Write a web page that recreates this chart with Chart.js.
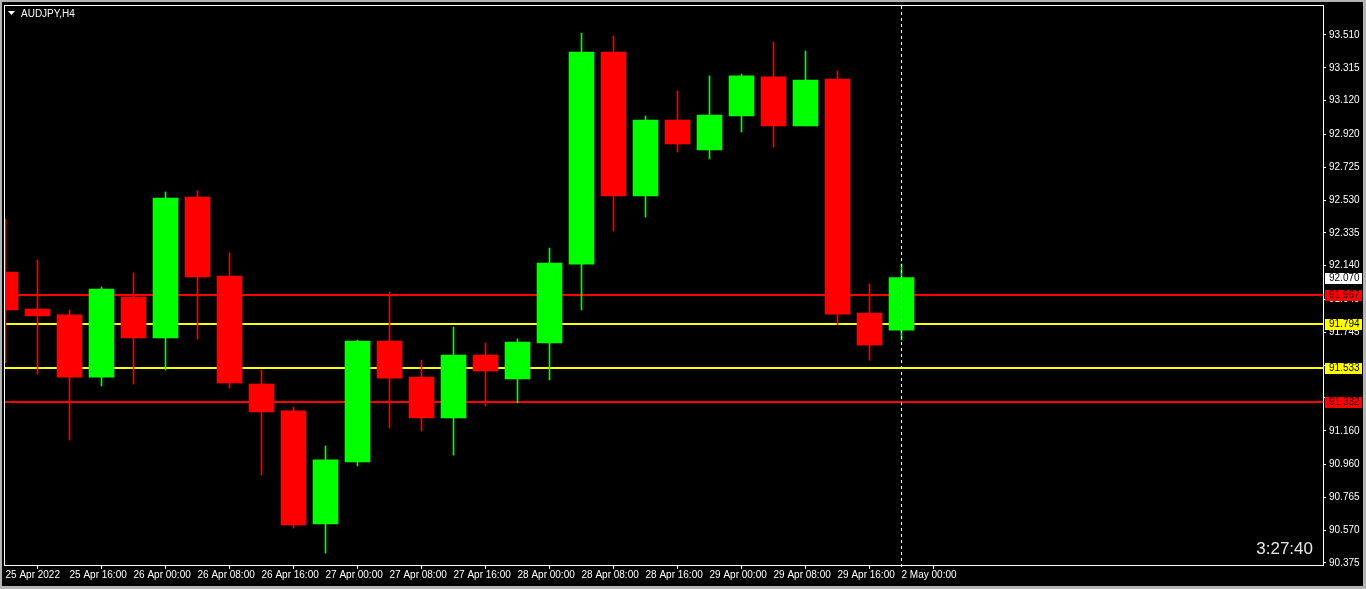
<!DOCTYPE html>
<html>
<head>
<meta charset="utf-8">
<title>AUDJPY,H4</title>
<script src="https://cdn.jsdelivr.net/npm/chart.js@4.4.1/dist/chart.umd.min.js"></script>
<style>
  html, body { margin: 0; padding: 0; background: #b4b4b4; overflow: hidden; }
  #chart { position: absolute; left: 2px; top: 2px; background: #000; }
</style>
</head>
<body>
<canvas id="chart" width="1361" height="584"></canvas>
<script>
// Bougies H4 : de 25 Apr 08:00 à 2 May 00:00 (29 bougies)
const opens  = [92.103, 91.883, 91.848, 91.479, 91.954, 91.711, 92.548, 92.079, 91.438, 91.278,
                90.607, 90.975, 91.693, 91.479, 91.236, 91.610, 91.468, 91.681, 92.150, 93.409,
                92.554, 93.005, 92.827, 93.029, 93.261, 92.970, 93.249, 91.859, 91.758];
const highs  = [92.418, 92.174, 91.877, 92.014, 92.097, 92.578, 92.584, 92.216, 91.521, 91.301,
                91.070, 91.699, 91.984, 91.580, 91.776, 91.681, 91.705, 92.245, 93.522, 93.504,
                93.029, 93.178, 93.267, 93.278, 93.468, 93.415, 93.296, 92.032, 92.150];
const lows   = [91.563, 91.497, 91.105, 91.426, 91.438, 91.521, 91.705, 91.414, 90.898, 90.583,
                90.434, 90.951, 91.177, 91.159, 91.016, 91.307, 91.325, 91.462, 91.877, 92.346,
                92.429, 92.815, 92.774, 92.934, 92.845, 92.970, 91.788, 91.580, 91.699];
const closes = [91.877, 91.842, 91.479, 92.002, 91.711, 92.542, 92.073, 91.444, 91.272, 90.601,
                90.987, 91.693, 91.473, 91.236, 91.610, 91.515, 91.687, 92.156, 93.409, 92.554,
                93.005, 92.863, 93.035, 93.267, 92.970, 93.243, 91.853, 91.669, 92.070];

// une étiquette toutes les 2 bougies
const xTickLabels = ["25 Apr 2022", "25 Apr 16:00", "26 Apr 00:00", "26 Apr 08:00", "26 Apr 16:00",
                     "27 Apr 00:00", "27 Apr 08:00", "27 Apr 16:00", "28 Apr 00:00", "28 Apr 08:00",
                     "28 Apr 16:00", "29 Apr 00:00", "29 Apr 08:00", "29 Apr 16:00", "2 May 00:00"];
const yTickValues = [93.510, 93.315, 93.120, 92.920, 92.725, 92.530, 92.335, 92.140, 91.940,
                     91.745, 91.550, 91.355, 91.160, 90.960, 90.765, 90.570, 90.375];

// niveaux horizontaux
const levelValues = [91.967, 91.794, 91.533, 91.332];
const timerText = "3:27:40";
const symbolText = "AUDJPY,H4";

const levelColors = ['#ff0000', '#ffff00', '#ffff00', '#ff0000'];
const font = { family: '"Liberation Sans", Arial, sans-serif', size: 10 };

const idx = closes.map((_, i) => i);
const colors = idx.map(i => closes[i] >= opens[i] ? '#00ff00' : '#ff0000');
const bodyData = idx.map(i => ({ x: i, y: [opens[i], closes[i]] }));
const wickData = idx.map(i => ({ x: i, y: [lows[i], highs[i]] }));

// une graduation juste au-dessus d'une étiquette de niveau est masquée, comme dans MT4
const hiddenByLevel = v => levelValues.some(l => v - l >= 0 && v - l < 0.025);

const mt4Overlay = {
    id: 'mt4Overlay',
    beforeDatasetsDraw(chart) {
        const { ctx, chartArea: a, scales: { y } } = chart;
        ctx.save();
        levelValues.forEach((v, i) => {
            const py = Math.round(y.getPixelForValue(v));
            ctx.fillStyle = levelColors[i];
            ctx.fillRect(a.left, py - 1, a.right - a.left + 1, 2);
        });
        ctx.restore();
    },
    afterDraw(chart) {
        const { ctx, chartArea: a, scales: { x, y } } = chart;
        ctx.save();

        // cadre
        ctx.strokeStyle = '#ffffff';
        ctx.lineWidth = 1;
        ctx.strokeRect(a.left + 0.5, a.top + 0.5, a.right - a.left, a.bottom - a.top);

        // ligne verticale pointillée sur la dernière bougie
        const px = Math.floor(x.getPixelForValue(closes.length - 1)) + 0.5;
        ctx.setLineDash([3, 3]);
        ctx.beginPath();
        ctx.moveTo(px, a.top + 1);
        ctx.lineTo(px, a.bottom + 5);
        ctx.stroke();
        ctx.setLineDash([]);

        // étiquettes de prix sur l'axe
        ctx.font = font.size + 'px ' + font.family;
        ctx.textBaseline = 'middle';
        ctx.textAlign = 'left';
        const boxes = levelValues.map((v, i) => ({ v, bg: levelColors[i] }));
        boxes.push({ v: closes[closes.length - 1], bg: '#ffffff' });
        boxes.forEach(b => {
            const py = Math.round(y.getPixelForValue(b.v));
            ctx.fillStyle = b.bg;
            ctx.fillRect(a.right + 2, py - 5, 37, 11);
            ctx.fillStyle = '#000000';
            ctx.fillText(b.v.toFixed(3), a.right + 6, py + 0.5);
        });

        // titre
        ctx.fillStyle = '#ffffff';
        ctx.beginPath();
        ctx.moveTo(6, 9);
        ctx.lineTo(13, 9);
        ctx.lineTo(9.5, 13);
        ctx.closePath();
        ctx.fill();
        ctx.fillText(symbolText, 19, 12);

        // compte à rebours
        ctx.font = '17px ' + font.family;
        ctx.fillStyle = '#e8e8e8';
        ctx.textAlign = 'right';
        ctx.textBaseline = 'alphabetic';
        ctx.fillText(timerText, a.right - 10, a.bottom - 11);

        ctx.restore();
    }
};

const canvas = document.getElementById('chart');
const chart = new Chart(canvas, {
    type: 'bar',
    data: {
        datasets: [{
            data: bodyData,
            backgroundColor: colors,
            barThickness: 25,
            grouped: false,
            borderWidth: 0,
            order: 1
        }, {
            data: wickData,
            backgroundColor: colors,
            barThickness: 1,
            grouped: false,
            borderWidth: 0,
            order: 2
        }]
    },
    options: {
        responsive: false,
        animation: false,
        layout: { padding: { left: 2, top: 3, right: 0, bottom: 0 } },
        plugins: {
            legend: { display: false },
            tooltip: { enabled: false }
        },
        scales: {
            x: {
                type: 'linear',
                min: -0.046875,
                max: 41.171875,
                offset: false,
                border: { display: false },
                grid: { drawOnChartArea: false, color: '#ffffff', tickLength: 4 },
                afterBuildTicks: s => { s.ticks = xTickLabels.map((_, i) => ({ value: i * 2 })); },
                afterFit: s => { s.height = 21; s.paddingLeft = 0; s.paddingRight = 0; },
                ticks: {
                    color: '#ffffff',
                    font: font,
                    align: 'start',
                    maxRotation: 0,
                    autoSkip: false,
                    padding: 0,
                    callback: (v, i) => xTickLabels[i]
                }
            },
            y: {
                type: 'linear',
                position: 'right',
                min: 90.363125,
                max: 93.688125,
                border: { display: false },
                grid: { drawOnChartArea: false, color: '#ffffff', tickLength: 3 },
                afterBuildTicks: s => { s.ticks = yTickValues.map(v => ({ value: v })); },
                afterFit: s => { s.width = 40; s.paddingTop = 0; s.paddingBottom = 0; },
                ticks: {
                    color: '#ffffff',
                    font: font,
                    autoSkip: false,
                    padding: 3,
                    callback: v => hiddenByLevel(v) ? '' : v.toFixed(3)
                }
            }
        }
    },
    plugins: [mt4Overlay]
});
</script>
</body>
</html>
